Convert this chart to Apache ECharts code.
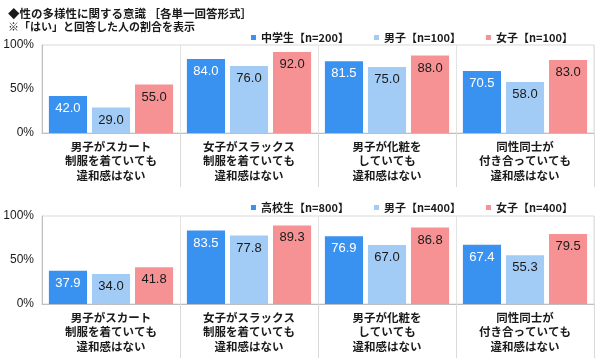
<!DOCTYPE html>
<html><head><meta charset="utf-8">
<script src="https://cdn.jsdelivr.net/npm/echarts@6/dist/echarts.min.js"></script>
<style>html,body{margin:0;padding:0;background:#fff}#c{width:600px;height:358px}</style>
</head><body><div id="c"></div>
<script>
const categories = ['男子がスカート\n制服を着ていても\n違和感はない', '女子がスラックス\n制服を着ていても\n違和感はない', '男子が化粧を\nしていても\n違和感はない', '同性同士が\n付き合っていても\n違和感はない'];
const yTicks = [0, 50, 100];
const jhsNames = ['中学生【n=200】', '男子【n=100】', '女子【n=100】'];
const jhsAll = [42.0, 84.0, 81.5, 70.5];
const jhsBoys = [29.0, 76.0, 75.0, 58.0];
const jhsGirls = [55.0, 92.0, 88.0, 83.0];
const hsNames = ['高校生【n=800】', '男子【n=400】', '女子【n=400】'];
const hsAll = [37.9, 83.5, 76.9, 67.4];
const hsBoys = [34.0, 77.8, 67.0, 55.3];
const hsGirls = [41.8, 89.3, 86.8, 79.5];

const colors = ['#3A92F0', '#A2CBF6', '#F69294'];
const labelColors = ['#ffffff', '#1a1a1a', '#1a1a1a'];
const FONT = '"Noto Sans CJK JP", "Liberation Sans", sans-serif';

function mkSeries(name, data, idx, axis) {
  return {
    name: name, type: 'bar', data: data,
    xAxisIndex: axis, yAxisIndex: axis,
    barGap: '13%', barCategoryGap: '10%',
    itemStyle: { color: colors[idx] },
    label: { show: true, position: 'insideTop', distance: 6, color: labelColors[idx],
      fontSize: 13, fontFamily: 'Liberation Sans, Arial, sans-serif',
      formatter: p => p.value.toFixed(1) },
    emphasis: { disabled: true }
  };
}
function mkX(gi) {
  return {
    type: 'category', gridIndex: gi, data: categories,
    axisLine: { lineStyle: { color: '#bfbfbf' } },
    axisTick: { show: true, length: 54, lineStyle: { color: '#d9d9d9' },
      interval: function (i) { return i > 0; } },
    splitLine: { show: true, lineStyle: { color: '#e3e3e3' } },
    axisLabel: { color: '#1a1a1a', fontSize: 11.5, fontWeight: 'bold', fontFamily: FONT,
      lineHeight: 14.5, margin: 6, interval: 0 }
  };
}
function mkY(gi) {
  return {
    type: 'value', gridIndex: gi, min: yTicks[0], max: yTicks[2], interval: yTicks[1],
    axisLine: { show: true, lineStyle: { color: '#bfbfbf' } },
    axisTick: { show: false },
    splitLine: { show: false },
    axisLabel: { color: '#1a1a1a', fontSize: 12, fontFamily: 'Liberation Sans, Arial, sans-serif',
      margin: 8, formatter: '{value}%' }
  };
}
const legendText = { color: '#1a1a1a', fontSize: 11, fontWeight: 'bold', fontFamily: FONT };
const chart = echarts.init(document.getElementById('c'), null, { renderer: 'canvas' });
chart.setOption({
  animation: false,
  title: {
    left: 3, top: 3, itemGap: 2,
    text: '◆性の多様性に関する意識 ［各単一回答形式］',
    subtext: '※「はい」と回答した人の割合を表示',
    textStyle: { fontSize: 11.5, fontWeight: 'bold', color: '#1a1a1a', fontFamily: FONT },
    subtextStyle: { fontSize: 11, fontWeight: 'bold', color: '#1a1a1a', fontFamily: FONT }
  },
  legend: [
    { data: jhsNames, right: 22, top: 27, itemWidth: 5, itemHeight: 5, itemGap: 25,
      icon: 'rect', textStyle: legendText, selectedMode: false },
    { data: hsNames, right: 22, top: 197, itemWidth: 5, itemHeight: 5, itemGap: 25,
      icon: 'rect', textStyle: legendText, selectedMode: false }
  ],
  grid: [
    { left: 42, right: 6, top: 45, height: 88, show: true, borderColor: '#d9d9d9', borderWidth: 1 },
    { left: 42, right: 6, top: 216, height: 88, show: true, borderColor: '#d9d9d9', borderWidth: 1 }
  ],
  xAxis: [mkX(0), mkX(1)],
  yAxis: [mkY(0), mkY(1)],
  series: [
    mkSeries(jhsNames[0], jhsAll, 0, 0),
    mkSeries(jhsNames[1], jhsBoys, 1, 0),
    mkSeries(jhsNames[2], jhsGirls, 2, 0),
    mkSeries(hsNames[0], hsAll, 0, 1),
    mkSeries(hsNames[1], hsBoys, 1, 1),
    mkSeries(hsNames[2], hsGirls, 2, 1)
  ]
});
</script></body></html>
